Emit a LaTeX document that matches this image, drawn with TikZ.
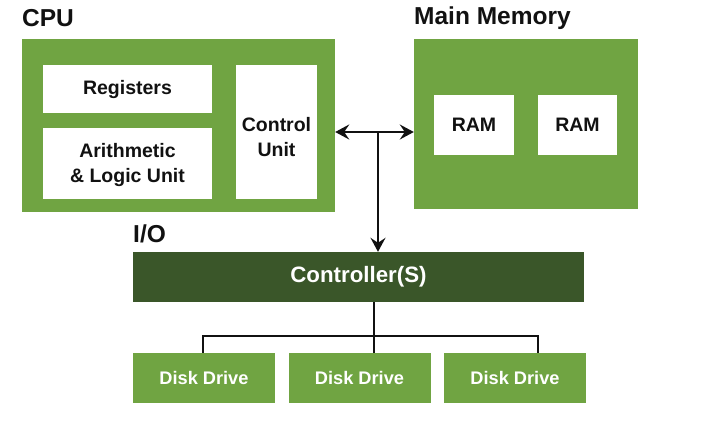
\documentclass[tikz,border=0pt]{standalone}
\usepackage{fontspec}
\setmainfont{Liberation Sans}
\usetikzlibrary{positioning,arrows.meta}
\definecolor{leaf}{HTML}{70A442}
\definecolor{moss}{HTML}{3A5629}
\definecolor{ink}{HTML}{111111}

\begin{document}
\begin{tikzpicture}[x=1pt,y=-1pt,
    panel/.style={fill=leaf, draw=none, inner sep=0pt},
    part/.style={fill=white, draw=none, text=ink, align=center, inner sep=0pt, font=\bfseries\fontsize{19.5}{25}\selectfont},
    disk/.style={fill=leaf, draw=none, text=white, inner sep=0pt, minimum width=142pt, minimum height=50pt, font=\bfseries\fontsize{18.2}{20}\selectfont},
    title/.style={anchor=west, inner sep=0pt, text=ink, font=\bfseries\fontsize{24.5}{28}\selectfont},
    tip/.tip={Stealth[length=14pt,width=15pt,inset=5pt]},
    wire/.style={line width=2pt, draw=ink},
    link/.style={wire, tip-tip}]
    \useasboundingbox (0,0) rectangle (709,442);
    \node[panel, minimum width=313pt, minimum height=173pt] (cpu) at (178.5,125.5) {};
    \node[part, minimum width=169pt, minimum height=48pt] (reg) at (127.5,89) {Registers};
    \node[part, minimum width=169pt, minimum height=71pt, label={[part, fill=none, yshift=-1pt]center:{Arithmetic\\\& Logic Unit}}] (alu) at (127.5,163.5) {};
    \node[part, minimum width=81pt, minimum height=134pt, label={[part, fill=none, yshift=-5pt]center:{Control\\Unit}}] (cu) at (276.5,132) {};
    \node[panel, minimum width=224pt, minimum height=170pt] (mem) at (526,124) {};
    \node[part, minimum width=80pt, minimum height=60pt] (ram1) at (474,125) {RAM};
    \node[part, minimum width=79pt, minimum height=60pt] (ram2) at (577.5,125) {RAM};
    \node[panel, fill=moss, minimum width=451pt, minimum height=50pt, text=white, font=\bfseries\fontsize{22.3}{26}\selectfont] (ctrl) at (358.5,277) {Controller(S)};
    \foreach \x/\n in {204/1,359.5/2,515/3} {\node[disk] (d\n) at (\x,378) {Disk Drive};}
    \node[title] (cpulbl) at (22,18) {CPU};
    \node[title] (memlbl) at (414,18) {Main Memory};
    \node[title] (iolbl) at (133,234) {I/O};
    \coordinate (j) at (378,132);
    \draw[link] (j -| cpu.east) -- (j -| mem.west);
    \draw[wire, -tip] (j) -- (j |- ctrl.north);
    \coordinate (bus) at (374,336);
    \coordinate (b1) at (203,336);
    \coordinate (b3) at (538,336);
    \draw[wire] (bus |- ctrl.south) -- (bus |- d2.north);
    \draw[wire] (b1 |- d1.north) -- (b1) -- (b3) -- (b3 |- d3.north);
\end{tikzpicture}
\end{document}
